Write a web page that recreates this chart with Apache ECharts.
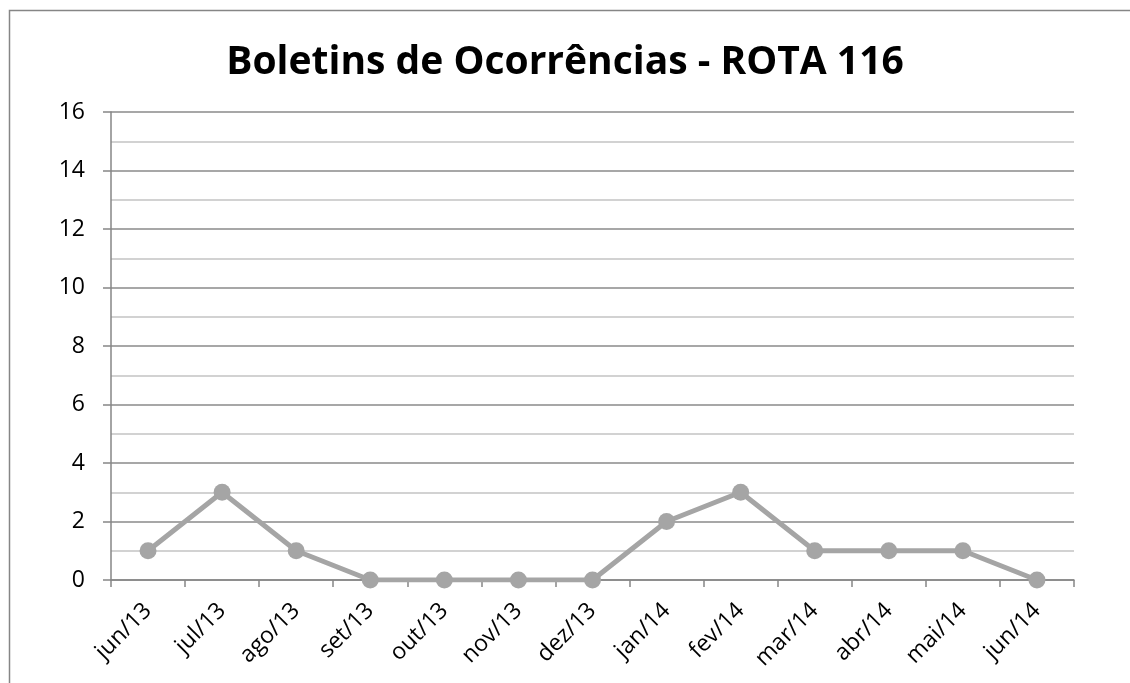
<!DOCTYPE html>
<html>
<head>
<meta charset="utf-8">
<script src="https://cdn.jsdelivr.net/npm/echarts@6/dist/echarts.min.js"></script>
<style>
  html, body { margin: 0; padding: 0; background: #fff; }
  #chart { width: 1130px; height: 683px; }
</style>
</head>
<body>
<div id="chart"></div>
<script>
// Monthly police reports for route 116
const months = ['jun/13', 'jul/13', 'ago/13', 'set/13', 'out/13', 'nov/13', 'dez/13',
                'jan/14', 'fev/14', 'mar/14', 'abr/14', 'mai/14', 'jun/14'];
const reports = [1, 3, 1, 0, 0, 0, 0, 2, 3, 1, 1, 1, 0];
const chartTitle = 'Boletins de Ocorrências - ROTA 116';

const font = '"Open Sans", "Noto Sans", sans-serif';
const chart = echarts.init(document.getElementById('chart'), null, { renderer: 'canvas' });

chart.setOption({
  backgroundColor: '#ffffff',
  animation: false,
  graphic: [{
    type: 'rect',
    shape: { x: 9.5, y: 10.5, width: 1400, height: 1000 },
    style: { fill: 'none', stroke: '#868686', lineWidth: 1.5 },
    silent: true
  }],
  title: {
    text: chartTitle,
    left: 'center',
    top: 38,
    textStyle: { fontFamily: font, fontWeight: 'bold', fontSize: 39, color: '#000' }
  },
  grid: { left: 111, right: 56, top: 112, bottom: 103 },
  xAxis: {
    type: 'category',
    data: months,
    boundaryGap: true,
    axisLine: { lineStyle: { color: '#868686', width: 1.5 } },
    axisTick: { show: true, alignWithLabel: false, length: 7, lineStyle: { color: '#868686', width: 1.5 } },
    axisLabel: { rotate: 45, margin: 27, fontFamily: font, fontSize: 23, color: '#000' },
    splitLine: { show: false }
  },
  yAxis: {
    type: 'value',
    min: 0,
    max: 16,
    interval: 2,
    axisLine: { show: true, lineStyle: { color: '#868686', width: 1.5 } },
    axisTick: { show: true, length: 8, lineStyle: { color: '#868686', width: 1.5 } },
    axisLabel: { margin: 26, fontFamily: font, fontSize: 23, color: '#000' },
    splitLine: { show: true, lineStyle: { color: '#8a8a8a', width: 1.5 } },
    minorTick: { show: false, splitNumber: 2 },
    minorSplitLine: { show: true, lineStyle: { color: '#c4c4c4', width: 1.5 } }
  },
  series: [{
    type: 'line',
    data: reports,
    symbol: 'circle',
    symbolSize: 17,
    lineStyle: { color: '#a5a5a5', width: 5 },
    itemStyle: { color: '#a5a5a5' },
    z: 5
  }]
});
</script>
</body>
</html>
